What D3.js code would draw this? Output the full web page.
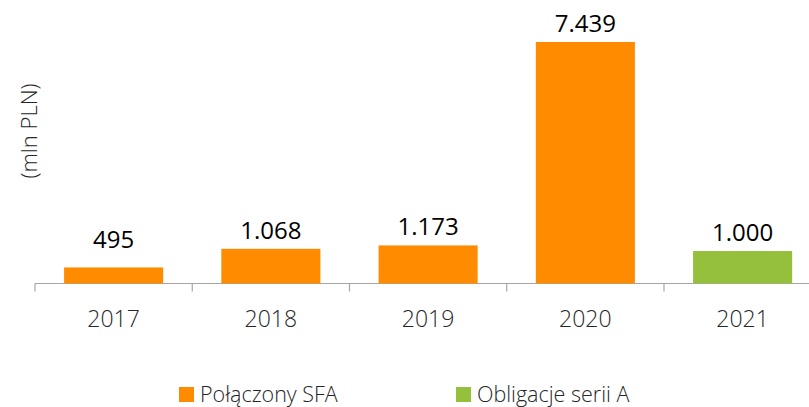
<!DOCTYPE html>
<html>
<head>
  <meta charset="UTF-8">
  <script src="https://d3js.org/d3.v7.min.js"></script>
  <style>
    body { margin: 0; background: #fff; font-family: 'Open Sans', 'DejaVu Sans', sans-serif; }
    svg { display: block; }
  </style>
</head>
<body>
  <svg width="809" height="407"></svg>
  <script>
    // data
    const years = ["2017", "2018", "2019", "2020", "2021"];
    const values = [495, 1068, 1173, 7439, 1000];
    const labels = ["495", "1.068", "1.173", "7.439", "1.000"];
    const seriesOf = ["sfa", "sfa", "sfa", "sfa", "bonds"];
    const seriesNames = ["Połączony SFA", "Obligacje serii A"];
    const seriesKeys = ["sfa", "bonds"];

    const svg = d3.select("svg");
    const left = 35, base = 283.5;
    const step = 157.25;

    const color = d3.scaleOrdinal().domain(seriesKeys).range(["#ff8c00", "#95c03b"]);

    const x = d3.scaleBand()
        .domain(years)
        .range([left, left + step * years.length])
        .paddingInner(0.37)
        .paddingOuter(0.185);

    const y = d3.scaleLinear()
        .domain([0, 8000])
        .range([base, base - 8000 * (241.5 / 7439)]);

    // axis line + ticks at category boundaries
    svg.append("line")
        .attr("x1", left).attr("x2", 809)
        .attr("y1", base).attr("y2", base)
        .attr("stroke", "#a6a6a6").attr("stroke-width", 1.2);

    svg.selectAll(".tick")
        .data(d3.range(years.length))
        .enter().append("line")
        .attr("x1", i => left + i * step).attr("x2", i => left + i * step)
        .attr("y1", base).attr("y2", base + 8)
        .attr("stroke", "#a6a6a6").attr("stroke-width", 1.2);

    svg.selectAll(".year")
        .data(years)
        .enter().append("text")
        .attr("x", d => x(d) + x.bandwidth() / 2)
        .attr("y", 327)
        .attr("text-anchor", "middle")
        .attr("font-size", 23)
        .attr("font-weight", 300)
        .attr("fill", "#262626")
        .text(d => d);

    // bars
    svg.selectAll(".bar")
        .data(years)
        .enter().append("rect")
        .attr("x", d => x(d))
        .attr("width", x.bandwidth())
        .attr("y", (d, i) => y(values[i]))
        .attr("height", (d, i) => base - y(values[i]))
        .attr("fill", (d, i) => color(seriesOf[i]));

    // value labels
    svg.selectAll(".val")
        .data(years)
        .enter().append("text")
        .attr("x", d => x(d) + x.bandwidth() / 2)
        .attr("y", (d, i) => Math.min(y(values[i]) - 10, 248))
        .attr("text-anchor", "middle")
        .attr("font-size", 24)
        .attr("fill", "#000")
        .text((d, i) => labels[i]);

    // y title
    svg.append("text")
        .attr("transform", "translate(37,131) rotate(-90)")
        .attr("text-anchor", "middle")
        .attr("font-size", 22)
        .attr("font-weight", 300)
        .attr("fill", "#262626")
        .text("(mln PLN)");

    // legend
    const legX = [179, 456];
    const leg = svg.selectAll(".leg")
        .data(seriesKeys)
        .enter().append("g")
        .attr("transform", (d, i) => `translate(${legX[i]},387)`);
    leg.append("rect")
        .attr("width", 15).attr("height", 15)
        .attr("fill", d => color(d));
    leg.append("text")
        .attr("x", 21).attr("y", 15)
        .attr("font-size", 21.5)
        .attr("font-weight", 300)
        .attr("fill", "#262626")
        .text((d, i) => seriesNames[i]);
  </script>
</body>
</html>
